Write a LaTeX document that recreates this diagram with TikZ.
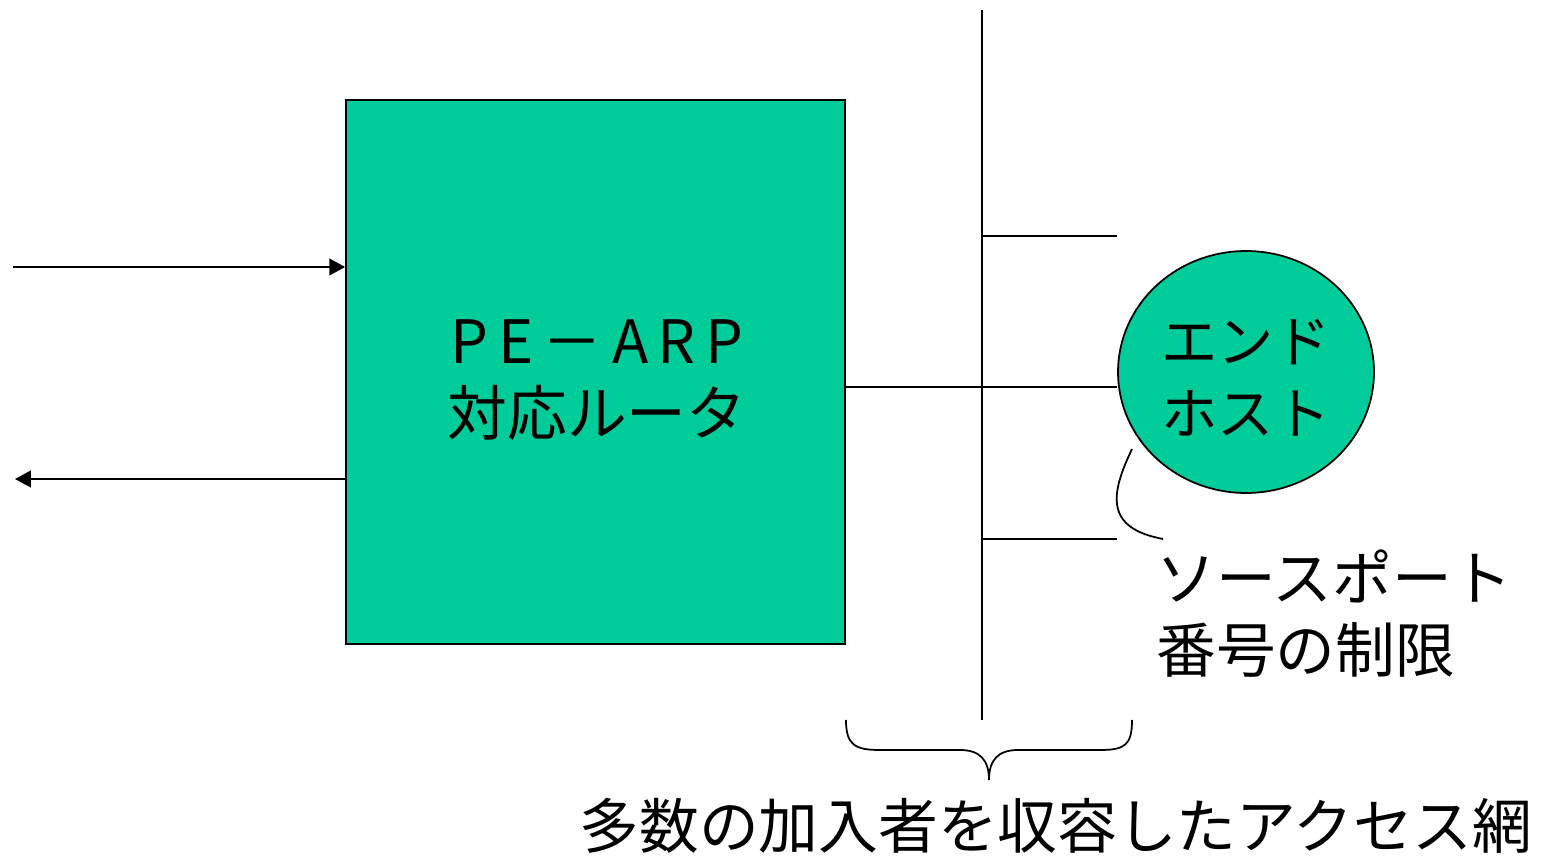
\documentclass[tikz,border=0pt]{standalone}
\usepackage{fontspec}
\setmainfont{Noto Sans CJK JP}
\usetikzlibrary{arrows.meta,shapes.geometric}
\definecolor{boxgreen}{HTML}{00CC99}
\begin{document}
\begin{tikzpicture}[x=0.02cm,y=-0.02cm,
  ln/.style={line width=1pt,black},
  tip/.style={-{Triangle[length=9pt,width=9.5pt]}},
  jp/.style={font=\fontsize{34}{41}\selectfont,align=center,inner sep=0pt}]
\useasboundingbox (0,0) rectangle (1542,858);
\node[draw,ln,fill=boxgreen,rectangle,minimum width=9.98cm,minimum height=10.88cm,inner sep=0pt] (router) at (595.5,372) {};
\node[jp] (routertext) at (597,380) {{\addfontfeature{LetterSpace=16}PE－ARP}\\対応ルータ};
\node[draw,ln,fill=boxgreen,ellipse,minimum width=5.12cm,minimum height=4.84cm,inner sep=0pt] (host) at (1246,372) {};
\node[jp,font=\fontsize{32}{41}\selectfont] (hosttext) at (1246,378) {エンド\\ホスト};
\coordinate (inS) at (13,267);
\coordinate (outE) at (15,479);
\coordinate (vtop) at (982,10);
\coordinate (vbot) at (982,720);
\coordinate (b1) at (982,236);
\coordinate (b1e) at (1117,236);
\coordinate (b2) at (982,539);
\coordinate (b2e) at (1117,539);
\draw[ln,tip] (inS) -- (router.west |- inS);
\draw[ln,tip] (router.west |- outE) -- (outE);
\draw[ln] (vtop) -- (vbot);
\draw[ln] (router.east |- 0,387) -- (host.west |- 0,387);
\draw[ln] (b1) -- (b1e);
\draw[ln] (b2) -- (b2e);
\node[jp,align=left,anchor=west] (porttext) at (1156,614) {ソースポート\\番号の制限};
\coordinate (c1) at (1132,449);
\coordinate (c2) at (1163,539);
\draw[ln] (c1) .. controls (1110,495) and (1105,528) .. (c2);
\coordinate (brL) at (846,720);
\coordinate (brM) at (989,780);
\coordinate (brR) at (1132,720);
\draw[ln] (brL) .. controls (846,745) and (855,750) .. (880,750) -- (960,750)
  .. controls (980,750) and (989,760) .. (brM)
  .. controls (989,760) and (998,750) .. (1018,750) -- (1100,750)
  .. controls (1125,750) and (1132,745) .. (brR);
\node[jp] (accesstext) at (1056,826) {多数の加入者を収容したアクセス網};
\end{tikzpicture}
\end{document}
